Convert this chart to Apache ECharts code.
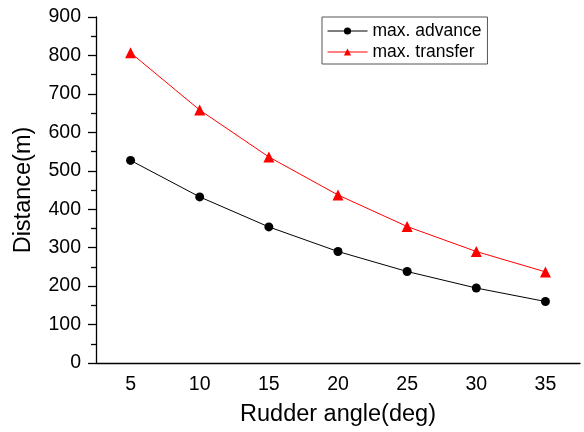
<!DOCTYPE html>
<html><head><meta charset="utf-8">
<script src="https://cdn.jsdelivr.net/npm/echarts@6/dist/echarts.min.js"></script>
<style>html,body{margin:0;padding:0;background:#fff}#c{width:584px;height:432px}</style>
</head><body><div id="c"></div>
<script>
const categories = ['5','10','15','20','25','30','35'];
const advance = [527, 432, 354, 290, 238, 195, 160];
const transfer = [807, 658, 536, 437, 355, 290, 237];
const yTicks = {min: 0, max: 900, interval: 100};

const FONT = '"Liberation Sans", Arial, sans-serif';
const chart = echarts.init(document.getElementById('c'), null, {renderer: 'canvas'});
chart.setOption({
  animation: false,
  backgroundColor: '#fff',
  textStyle: {fontFamily: FONT},
  grid: {left: 96, right: 4, top: 17, bottom: 69, containLabel: false},
  legend: {
    orient: 'vertical', left: 322, top: 17,
    padding: [5, 6, 3, 5], itemGap: 3,
    borderColor: '#555', borderWidth: 1, backgroundColor: '#fff',
    itemWidth: 40, itemHeight: 9,
    lineStyle: {width: 1},
    textStyle: {fontSize: 17.5, color: '#000', fontFamily: FONT},
    data: ['max. advance', 'max. transfer']
  },
  xAxis: [{
    type: 'category', data: categories, boundaryGap: true,
    name: 'Rudder angle(deg)', nameLocation: 'middle', nameGap: 40,
    nameTextStyle: {fontSize: 23.5, color: '#000', fontFamily: FONT},
    axisLine: {lineStyle: {color: '#000', width: 1.3}},
    axisTick: {alignWithLabel: true, length: 8, lineStyle: {color: '#000', width: 1.3}},
    axisLabel: {fontSize: 19.5, color: '#000', margin: 12, fontFamily: FONT},
    splitLine: {show: false}
  }, {
    type: 'category', data: categories, boundaryGap: true, position: 'bottom',
    axisLine: {show: false},
    axisTick: {length: 5, lineStyle: {color: '#000', width: 1.3}},
    axisLabel: {show: false}, splitLine: {show: false}
  }],
  yAxis: {
    type: 'value', min: yTicks.min, max: yTicks.max, interval: yTicks.interval,
    name: 'Distance(m)', nameLocation: 'middle', nameGap: 60, nameRotate: 90,
    nameTextStyle: {fontSize: 23.5, color: '#000', fontFamily: FONT},
    axisLine: {show: true, lineStyle: {color: '#000', width: 1.3}},
    axisTick: {show: true, length: 8, lineStyle: {color: '#000', width: 1.3}},
    minorTick: {show: true, splitNumber: 2, length: 5, lineStyle: {color: '#000', width: 1.3}},
    axisLabel: {fontSize: 19.5, color: '#000', margin: 15, fontFamily: FONT},
    splitLine: {show: false}
  },
  series: [{
    name: 'max. advance', type: 'line', data: advance,
    symbol: 'circle', symbolSize: 9,
    lineStyle: {color: '#000', width: 1}, itemStyle: {color: '#000'}
  }, {
    name: 'max. transfer', type: 'line', data: transfer,
    symbol: 'triangle', symbolSize: 11,
    lineStyle: {color: '#ff0000', width: 1}, itemStyle: {color: '#ff0000'}
  }]
});
</script></body></html>
